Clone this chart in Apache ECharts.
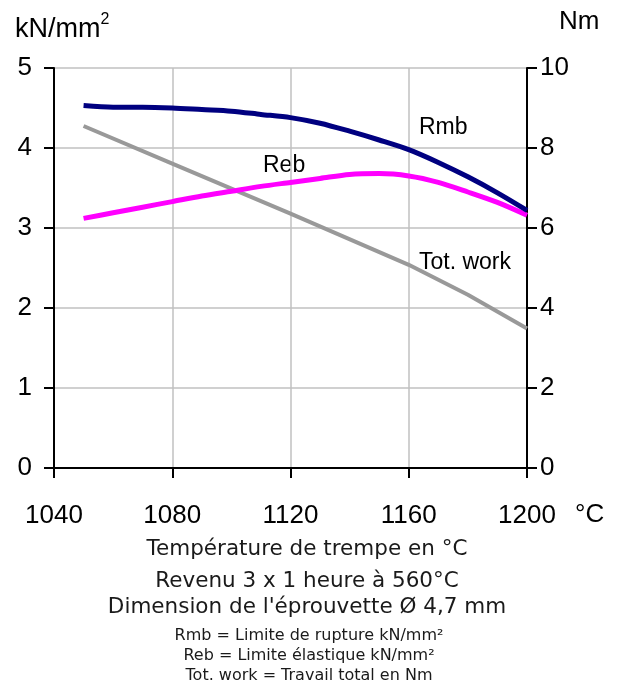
<!DOCTYPE html>
<html>
<head>
<meta charset="utf-8">
<script src="https://cdn.jsdelivr.net/npm/echarts@6/dist/echarts.min.js"></script>
<style>
html,body{margin:0;padding:0;background:#fff;}
#chart{width:625px;height:689px;}
</style>
</head>
<body>
<div id="chart"></div>
<script>
// temperature points (°C) and values
var temps = [1050,1060,1070,1080,1090,1100,1110,1120,1130,1140,1150,1160,1170,1180,1190,1200];
var rmb = [4.53,4.51,4.51,4.50,4.48,4.46,4.42,4.38,4.31,4.21,4.10,3.98,3.82,3.64,3.44,3.22];
var reb = [3.12,3.19,3.26,3.33,3.40,3.46,3.52,3.57,3.62,3.67,3.68,3.65,3.57,3.45,3.32,3.16];
var workTemps = [1050,1080,1120,1160,1180,1200];
var work = [8.55,7.61,6.36,5.08,4.33,3.49];

var xTicks = [1040,1080,1120,1160,1200];
var leftTicks = [0,1,2,3,4,5];
var rightTicks = [0,2,4,6,8,10];

function pairs(xs, ys){
    return xs.map(function(x,i){ return [x, ys[i]]; });
}

var chart = echarts.init(document.getElementById('chart'));

var labelFont = 'Liberation Sans, Arial, sans-serif';
var noteFont = 'DejaVu Sans, sans-serif';

var option = {
    animation:false,
    backgroundColor:'#fff',
    grid:{
        left:54,
        right:98,
        top:68,
        bottom:221
    },
    xAxis:{
        type:'value',
        min:xTicks[0],
        max:xTicks[xTicks.length-1],
        interval:40,
        axisLine:{lineStyle:{color:'#000',width:2}},
        axisTick:{show:true,length:10,lineStyle:{color:'#000',width:2}},
        axisLabel:{color:'#000',fontSize:26,fontFamily:labelFont,margin:35,
            formatter:function(v){ return String(v); }},
        splitLine:{show:true,lineStyle:{color:'#c0c0c0',width:1.5}}
    },
    yAxis:[
        {
            type:'value',
            min:leftTicks[0],
            max:leftTicks[leftTicks.length-1],
            interval:1,
            axisLine:{show:true,lineStyle:{color:'#000',width:2}},
            axisTick:{show:true,length:10,lineStyle:{color:'#000',width:2}},
            axisLabel:{color:'#000',fontSize:26,fontFamily:labelFont,margin:22},
            splitLine:{show:true,lineStyle:{color:'#c0c0c0',width:1.5}}
        },
        {
            type:'value',
            min:rightTicks[0],
            max:rightTicks[rightTicks.length-1],
            interval:2,
            position:'right',
            axisLine:{show:true,lineStyle:{color:'#000',width:2}},
            axisTick:{show:true,length:10,lineStyle:{color:'#000',width:2}},
            axisLabel:{color:'#000',fontSize:26,fontFamily:labelFont,margin:13},
            splitLine:{show:false}
        }
    ],
    series:[
        {
            name:'Tot. work',
            type:'line',
            yAxisIndex:1,
            symbol:'none',
            data:pairs(workTemps, work),
            lineStyle:{color:'#999999',width:4}
        },
        {
            name:'Reb',
            type:'line',
            symbol:'none',
            smooth:0.3,
            data:pairs(temps, reb),
            lineStyle:{color:'#ff00ff',width:5}
        },
        {
            name:'Rmb',
            type:'line',
            symbol:'none',
            smooth:0.3,
            data:pairs(temps, rmb),
            lineStyle:{color:'#000080',width:5}
        }
    ],
    graphic:[
        // axis units
        {type:'text',left:15,top:12,style:{
            text:'{a|kN/mm}{s|2}',
            rich:{
                a:{fontSize:27,fontFamily:labelFont,fill:'#000',verticalAlign:'bottom'},
                s:{fontSize:16,fontFamily:labelFont,fill:'#000',verticalAlign:'top',padding:[0,0,15,0]}
            }
        }},
        {type:'text',left:559,top:9,style:{text:'Nm',fontSize:26,fontFamily:labelFont,fill:'#000'}},
        {type:'text',left:575,top:502,style:{text:'°C',fontSize:26,fontFamily:labelFont,fill:'#000'}},
        // series labels
        {type:'text',left:419,top:116,style:{text:'Rmb',fontSize:23,fontFamily:labelFont,fill:'#000'}},
        {type:'text',left:263,top:154,style:{text:'Reb',fontSize:23,fontFamily:labelFont,fill:'#000'}},
        {type:'text',left:419,top:251,style:{text:'Tot. work',fontSize:23,fontFamily:labelFont,fill:'#000'}},
        // notes below
        {type:'text',x:307,y:549,style:{text:'Température de trempe en °C',fontSize:21.5,fontFamily:noteFont,fill:'#1a1a1a',align:'center',verticalAlign:'middle'}},
        {type:'text',x:307,y:581,style:{text:'Revenu 3 x 1 heure à 560°C',fontSize:21.5,fontFamily:noteFont,fill:'#1a1a1a',align:'center',verticalAlign:'middle'}},
        {type:'text',x:307,y:607,style:{text:"Dimension de l'éprouvette Ø 4,7 mm",fontSize:21.5,fontFamily:noteFont,fill:'#1a1a1a',align:'center',verticalAlign:'middle'}},
        {type:'text',x:309,y:636,style:{text:'Rmb = Limite de rupture kN/mm²',fontSize:16,fontFamily:noteFont,fill:'#1a1a1a',align:'center',verticalAlign:'middle'}},
        {type:'text',x:309,y:656,style:{text:'Reb = Limite élastique kN/mm²',fontSize:16,fontFamily:noteFont,fill:'#1a1a1a',align:'center',verticalAlign:'middle'}},
        {type:'text',x:309,y:676,style:{text:'Tot. work = Travail total en Nm',fontSize:16,fontFamily:noteFont,fill:'#1a1a1a',align:'center',verticalAlign:'middle'}}
    ]
};

chart.setOption(option);
</script>
</body>
</html>
